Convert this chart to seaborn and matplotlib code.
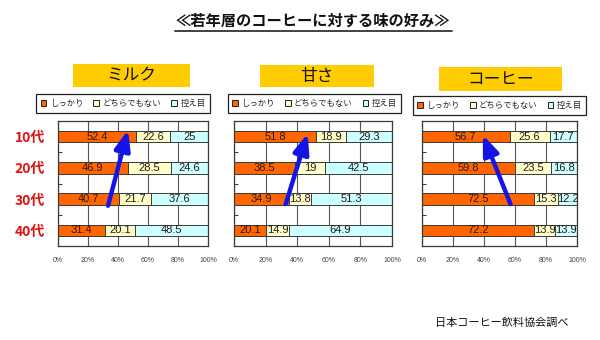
import matplotlib
matplotlib.use("Agg")
import matplotlib.pyplot as plt
from matplotlib.patches import Rectangle, Patch
from matplotlib.lines import Line2D
import numpy as np
import pandas as pd
import seaborn as sns

# ---- data -------------------------------------------------------------
ages = ["10代", "20代", "30代", "40代"]
series_names = ["しっかり", "どちらでもない", "控え目"]
panel_titles = ["ミルク", "甘さ", "コーヒー"]

milk_firm = [52.4, 46.9, 40.7, 31.4]
milk_neutral = [22.6, 28.5, 21.7, 20.1]
milk_light = [25, 24.6, 37.6, 48.5]

sweet_firm = [51.8, 38.5, 34.9, 20.1]
sweet_neutral = [18.9, 19, 13.8, 14.9]
sweet_light = [29.3, 42.5, 51.3, 64.9]

coffee_firm = [56.7, 59.8, 72.5, 72.2]
coffee_neutral = [25.6, 23.5, 15.3, 13.9]
coffee_light = [17.7, 16.8, 12.2, 13.9]

pct_ticks = [0, 20, 40, 60, 80, 100]
pct_labels = ["0%", "20%", "40%", "60%", "80%", "100%"]

panels = [
    (milk_firm, milk_neutral, milk_light),
    (sweet_firm, sweet_neutral, sweet_light),
    (coffee_firm, coffee_neutral, coffee_light),
]

# ---- style ------------------------------------------------------------
sns.set_style("white")
plt.rcParams["font.family"] = ["Noto Sans CJK JP", "DejaVu Sans"]

seg_colors = ["#FF6600", "#FFFFCC", "#CCFFFF"]
edge = "#3a3a3a"
arrow_blue = "#1414E6"
num_font = ["Liberation Sans", "DejaVu Sans"]

W, H = 600, 340
fig = plt.figure(figsize=(6, 3.4), dpi=100)


def fx(px):
    return px / W


def fy(py):
    return 1 - py / H


# axes boxes in pixels: (left, right, top, bottom)
axes_px = [(57.5, 208, 121, 246), (234, 392, 121, 246), (421.7, 577, 121, 246)]
title_boxes = [(73, 190, 64, 87), (260, 374, 65, 87), (439, 562, 67, 91)]
legend_centers = [(123, 103.5), (314.5, 103.5), (499.5, 105.5)]
# arrow (tail x, tail row, head x, head row) in data units
arrows = [(33.6, 2.21, 46.8, -0.21), (32.7, 2.16, 46.6, -0.1), (57.2, 2.16, 39.4, -0.05)]

for i, (firm, neutral, light) in enumerate(panels):
    l, r, t, b = axes_px[i]
    ax = fig.add_axes([fx(l), fy(b), fx(r - l), (b - t) / H])

    df = pd.DataFrame({"age": ages, "firm": firm, "neutral": neutral, "light": light})
    df["c1"] = df["firm"]
    df["c2"] = df["firm"] + df["neutral"]
    df["c3"] = df["c2"] + df["light"]

    # stacked bars: draw cumulative totals back to front
    for col, color in zip(["c3", "c2", "c1"], seg_colors[::-1]):
        sns.barplot(data=df, x=col, y="age", order=ages, orient="h", color=color,
                    width=0.37, edgecolor=edge, linewidth=0.7, saturation=1,
                    errorbar=None, ax=ax, zorder=2)

    # segment value labels
    for j in range(len(ages)):
        start = 0.0
        for v in (firm[j], neutral[j], light[j]):
            ax.text(start + v / 2, j, f"{v:g}", ha="center", va="center",
                    fontsize=8, family=num_font, color="#2a1a12", zorder=4)
            start += v

    ax.set_xlim(0, 100)
    ax.set_ylim(3.5, -0.5)
    ax.set_xlabel("")
    ax.set_ylabel("")
    ax.set_xticks(pct_ticks)
    ax.set_xticklabels(pct_labels, fontsize=5, family=num_font, color="#444444")
    ax.tick_params(axis="x", length=0, pad=8)
    ax.grid(axis="x", color="#555555", linewidth=0.8, zorder=0)
    ax.grid(axis="y", visible=False)
    ax.set_axisbelow(True)
    for s in ax.spines.values():
        s.set_visible(True)
        s.set_color(edge)
        s.set_linewidth(0.9)

    ax.set_yticks(range(len(ages)))
    ax.set_yticks([0.5, 1.5, 2.5], minor=True)
    ax.tick_params(axis="y", which="major", length=0, pad=9)
    ax.tick_params(axis="y", which="minor", direction="in", length=3,
                   width=0.8, color=edge, left=True)
    if i == 0:
        ax.set_yticklabels(ages, fontsize=10, fontweight="bold", color="#E01010")
    else:
        ax.set_yticklabels([])

    x0, y0, x1, y1 = arrows[i]
    ax.annotate("", xy=(x1, y1), xytext=(x0, y0),
                arrowprops=dict(arrowstyle="-|>,head_length=0.85,head_width=0.34",
                                mutation_scale=14, lw=3.2, color=arrow_blue,
                                shrinkA=0, shrinkB=0),
                zorder=5, annotation_clip=False)

    # panel heading on a gold plate
    bl, br, bt, bb = title_boxes[i]
    fig.patches.append(Rectangle((fx(bl), fy(bb)), fx(br - bl), (bb - bt) / H,
                                 transform=fig.transFigure, facecolor="#FFCC00",
                                 edgecolor="none", zorder=1))
    fig.text(fx((bl + br) / 2), fy((bt + bb) / 2), panel_titles[i], ha="center",
             va="center", fontsize=12, color="#111111", zorder=2)

    handles = [Patch(facecolor=c, edgecolor="#222222", linewidth=0.7) for c in seg_colors]
    lcx, lcy = legend_centers[i]
    leg = fig.legend(handles, series_names, loc="center",
                     bbox_to_anchor=(fx(lcx), fy(lcy)), ncol=3, fontsize=6,
                     handlelength=0.7, handleheight=0.7, handletextpad=0.4,
                     columnspacing=1.2, borderpad=0.55, frameon=True,
                     fancybox=False, edgecolor="#222222", framealpha=1)
    leg.get_frame().set_linewidth(0.9)

# main heading with underline
fig.text(fx(313), fy(21), "≪若年層のコーヒーに対する味の好み≫", ha="center",
         va="center", fontsize=11, fontweight="bold", color="#111111")
fig.lines.append(Line2D([fx(175), fx(452)], [fy(31), fy(31)],
                        transform=fig.transFigure, color="#333333", lw=1.3))

fig.text(fx(435), fy(323), "日本コーヒー飲料協会調べ", ha="left", va="center",
         fontsize=8, color="#111111")

fig.savefig("out.png", dpi=100)
